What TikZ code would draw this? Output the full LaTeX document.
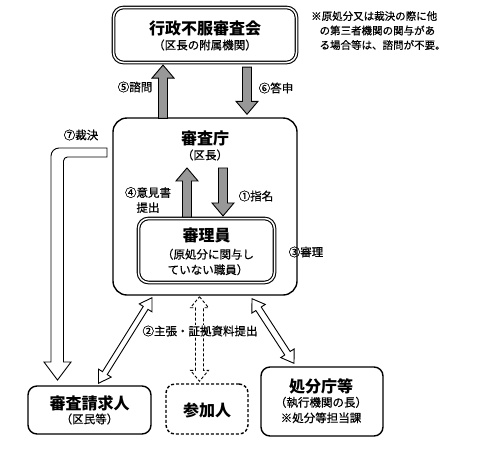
\documentclass[tikz,border=0pt]{standalone}
\usepackage{fontspec}
\setmainfont{Noto Sans CJK JP}
\newfontfamily\medfont{Noto Sans CJK JP}[FakeBold=0.6]
\usetikzlibrary{calc}
\definecolor{arrgray}{HTML}{989898}
\newcommand\blockarrow[6]{% style, from, to, shaft half, head half, head length
  \coordinate (ba-h) at ($(#3)!#6!(#2)$);
  \draw[#1] ($(#2)!#4!90:(#3)$) -- ($(ba-h)!#4!-90:(#2)$) -- ($(ba-h)!#5!-90:(#2)$) -- (#3)
    -- ($(ba-h)!#5!90:(#2)$) -- ($(ba-h)!#4!90:(#2)$) -- ($(#2)!#4!-90:(#3)$) -- cycle;
}
\newcommand\dblarrow[6]{% style, from, to, shaft half, head half, head length
  \coordinate (da-h1) at ($(#2)!#6!(#3)$);
  \coordinate (da-h2) at ($(#3)!#6!(#2)$);
  \draw[#1] (#2) -- ($(da-h1)!#5!90:(#3)$) -- ($(da-h1)!#4!90:(#3)$) -- ($(da-h2)!#4!-90:(#2)$)
    -- ($(da-h2)!#5!-90:(#2)$) -- (#3) -- ($(da-h2)!#5!90:(#2)$) -- ($(da-h2)!#4!90:(#2)$)
    -- ($(da-h1)!#4!-90:(#3)$) -- ($(da-h1)!#5!-90:(#3)$) -- cycle;
}
\tikzset{
  box/.style={draw, line width=1.4pt, rounded corners=9pt, fill=white, inner sep=0pt},
  dbox/.style={draw, double=white, double distance=1.5pt, line width=1.1pt, rounded corners=10pt, fill=white, inner sep=0pt},
  ttl/.style={font=\bfseries\fontsize{16}{19}\selectfont, inner sep=0pt},
  sub/.style={font=\medfont\fontsize{11.5}{15.5}\selectfont, inner sep=0pt, align=center},
  lbl/.style={font=\medfont\fontsize{11.5}{15}\selectfont, inner sep=1pt, align=center},
  note/.style={font=\medfont\fontsize{10.5}{14.5}\selectfont, inner sep=0pt, align=left, anchor=north west},
  grayarr/.style={draw, line width=0.9pt, fill=arrgray, line join=miter},
  hollowarr/.style={draw, line width=0.9pt, fill=white, line join=miter},
  dasharr/.style={draw, line width=0.9pt, dashed, dash pattern=on 3pt off 2pt},
}
\begin{document}
\begin{tikzpicture}[x=1pt,y=-1pt]
\useasboundingbox (0,0) rectangle (500,466);
% boxes
\node[dbox, minimum width=183pt, minimum height=55pt] (kai) at (205,35) {};
\node[ttl] (kaiT) at (205,28) {行政不服審査会};
\node[sub] (kaiS) at (205,45) {（区長の附属機関）};

\node[box, rounded corners=14pt, minimum width=184pt, minimum height=177pt] (cho) at (205,206.5) {};
\node[ttl] (choT) at (205,138) {審査庁};
\node[sub] (choS) at (205,155) {（区長）};

\node[dbox, minimum width=136pt, minimum height=64pt] (rin) at (206.5,250.5) {};
\node[ttl] (rinT) at (206.5,235) {審理員};
\node[sub] (rinS) at (208,262) {（原処分に関与し\\ていない職員）};

\node[box, minimum width=123pt, minimum height=48pt] (sei) at (89.5,410) {};
\node[ttl] (seiT) at (89.5,403) {審査請求人};
\node[sub] (seiS) at (89.5,419) {（区民等）};

\node[box, dashed, dash pattern=on 3pt off 2pt, minimum width=82pt, minimum height=50pt] (san) at (207,409) {};
\node[ttl] (sanT) at (207,410) {参加人};

\node[box, minimum width=122pt, minimum height=69pt] (sho) at (322,401.5) {};
\node[ttl] (shoT) at (321,386) {処分庁等};
\node[sub] (shoS) at (321,410) {（執行機関の長）\\※処分等担当課};

% note
\node[note] (nt) at (311,11) {※原処分又は裁決の際に他\\\hspace*{0.8em}の第三者機関の関与があ\\\hspace*{0.8em}る場合等は、諮問が不要。};

% gray arrows
\coordinate (a5s) at ($(cho.north)+(-42,1)$);
\coordinate (a5e) at ($(kai.south)+(-42,2)$);
\blockarrow{grayarr}{a5s}{a5e}{4.5pt}{11pt}{13pt}
\coordinate (a6s) at ($(kai.south)+(42,4)$);
\coordinate (a6e) at ($(cho.north)+(42,-3)$);
\blockarrow{grayarr}{a6s}{a6e}{4.5pt}{11pt}{13pt}
\coordinate (a4s) at ($(rin.north)+(-19.5,-1)$);
\coordinate (a4e) at ($(rin.north)+(-19.5,-50)$);
\blockarrow{grayarr}{a4s}{a4e}{4.5pt}{11pt}{13pt}
\coordinate (a1s) at ($(rin.north)+(16.5,-50)$);
\coordinate (a1e) at ($(rin.north)+(16.5,-2)$);
\blockarrow{grayarr}{a1s}{a1e}{4.5pt}{11pt}{13pt}

% labels
\node[lbl] (l5) at (135,87) {⑤諮問};
\node[lbl] (l6) at (276,88) {⑥答申};
\node[lbl] (l4) at (148,200) {④意見書\\提出};
\node[lbl] (l1) at (256,196) {①指名};
\node[lbl] (l3) at (306,252) {③審理};
\node[lbl] (l7) at (81,135) {⑦裁決};

% ⑦ bent hollow arrow
\draw[hollowarr] (107,148) -- (59,148) to[out=180,in=90] (51,156) -- (51,362) -- (44,362) -- (57.5,380)
  -- (71,362) -- (63.5,362) -- (63.5,161) to[out=90,in=180] (67.5,157) -- (107,157) -- cycle;

% double arrows
\coordinate (dL1) at ($(cho.south)+(-53,2)$);
\coordinate (dL2) at ($(sei.north)+(9,-2)$);
\dblarrow{hollowarr}{dL1}{dL2}{2.8pt}{7.5pt}{12pt}
\coordinate (dR1) at ($(cho.south)+(47,3)$);
\coordinate (dR2) at ($(sho.north)+(-28,-3)$);
\dblarrow{hollowarr}{dR1}{dR2}{3.2pt}{8pt}{12pt}
\coordinate (dM1) at ($(cho.south)+(-5.5,1)$);
\coordinate (dM2) at ($(san.north)+(-7.5,-2)$);
\dblarrow{dasharr}{dM1}{dM2}{4pt}{9pt}{11pt}

\node[lbl, fill=white, inner sep=0.5pt] (l2) at (200,331) {②主張・証拠資料提出};
\end{tikzpicture}
\end{document}
